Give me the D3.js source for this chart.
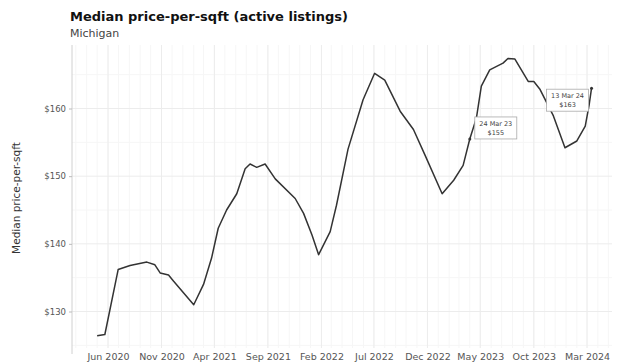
<!DOCTYPE html>
<html><head><meta charset="utf-8">
<script src="https://cdn.jsdelivr.net/npm/d3@7"></script>
<style>body{margin:0;background:#fff}svg{display:block}</style>
</head><body><svg id="c" width="624" height="364"></svg>
<script>
const dates = ["2020-05-01","2020-05-23","2020-06-30","2020-08-03","2020-09-20","2020-10-13","2020-10-28","2020-11-21","2020-12-05","2021-02-01","2021-03-01","2021-03-24","2021-04-12","2021-05-06","2021-06-04","2021-06-28","2021-07-12","2021-07-31","2021-08-24","2021-09-22","2021-11-18","2021-12-12","2022-01-05","2022-01-24","2022-02-26","2022-03-16","2022-04-18","2022-05-31","2022-07-03","2022-08-01","2022-09-14","2022-10-22","2022-11-25","2023-01-12","2023-02-14","2023-03-13","2023-04-01","2023-04-20","2023-05-04","2023-05-28","2023-07-05","2023-07-19","2023-08-08","2023-09-15","2023-10-01","2023-10-19","2023-11-26","2023-12-29","2024-02-01","2024-02-25","2024-03-07","2024-03-14"];
const values = [126.4,126.6,136.2,136.8,137.3,136.9,135.7,135.4,134.5,131.0,134.0,137.9,142.3,145.0,147.4,151.1,151.8,151.3,151.8,149.6,146.7,144.5,141.3,138.4,141.8,145.7,154.0,161.3,165.2,164.2,159.6,156.9,153.0,147.4,149.4,151.6,155.5,158.6,163.3,165.7,166.7,167.4,167.3,164.0,164.0,162.8,158.9,154.2,155.2,157.4,160.5,163.0];
const yTicks = [130,140,150,160];
const xTickLabels = ["Jun 2020","Nov 2020","Apr 2021","Sep 2021","Feb 2022","Jul 2022","Dec 2022","May 2023","Oct 2023","Mar 2024"];
const annDates = ["2023-04-01","2024-03-14"];
const annLine1 = ["24 Mar 23","13 Mar 24"];
const annLine2 = ["$155","$163"];

const parse = d3.timeParse("%Y-%m-%d");
const data = dates.map((d,i)=>({d:parse(d), v:values[i]}));
const svg = d3.select("#c");
const pL=72, pR=612, pT=45, pB=348;

const x = d3.scaleTime().domain([new Date(2020,5,1), new Date(2024,2,1)]).range([108,587]);
const y = d3.scaleLinear().domain([130,160]).range([311.5,108.5]);

const months = d3.timeMonth.range(x.invert(pL), x.invert(pR));
svg.append("g").selectAll("line").data(months).join("line")
  .attr("x1",d=>x(d)).attr("x2",d=>x(d)).attr("y1",pT).attr("y2",pB)
  .attr("stroke","#f6f6f6").attr("stroke-width",1);
const yMinor = [125,135,145,155,165];
svg.append("g").selectAll("line").data(yMinor).join("line")
  .attr("x1",pL).attr("x2",pR).attr("y1",d=>y(d)).attr("y2",d=>y(d))
  .attr("stroke","#f6f6f6");
const xTicks = xTickLabels.map(s=>d3.timeParse("%b %Y")(s));
svg.append("g").selectAll("line").data(xTicks).join("line")
  .attr("x1",d=>x(d)).attr("x2",d=>x(d)).attr("y1",pT).attr("y2",pB)
  .attr("stroke","#ececec");
svg.append("g").selectAll("line").data(yTicks).join("line")
  .attr("x1",pL).attr("x2",pR).attr("y1",d=>y(d)).attr("y2",d=>y(d))
  .attr("stroke","#ececec");

const yAxis = svg.append("g").attr("transform",`translate(${pL},0)`)
  .call(d3.axisLeft(y).tickValues(yTicks).tickFormat(d=>"$"+d).tickSize(3).tickPadding(3));
yAxis.select(".domain").attr("d",`M0,${pT}V${pB+6}`).attr("stroke","#d0d0d0");
yAxis.selectAll(".tick line").attr("stroke","#bbb");
yAxis.selectAll("text").attr("font-family","DejaVu Sans").attr("font-size",8.5).attr("fill","#555");

const xAxis = svg.append("g").attr("transform",`translate(0,${pB+3})`)
  .call(d3.axisBottom(x).tickValues(xTicks).tickFormat(d3.timeFormat("%b %Y")).tickSize(0).tickPadding(2));
xAxis.select(".domain").remove();
xAxis.selectAll("text").attr("font-family","DejaVu Sans").attr("font-size",9.5).attr("fill","#555");

svg.append("path").datum(data)
  .attr("d", d3.line().x(d=>x(d.d)).y(d=>y(d.v)))
  .attr("fill","none").attr("stroke","#333").attr("stroke-width",1.5).attr("stroke-linejoin","round");

const ann = annDates.map((d,i)=>{const dd=parse(d); const pt=data.find(p=>+p.d===+dd); return {d:dd,v:pt.v,l1:annLine1[i],l2:annLine2[i],i};});
const ag = svg.append("g").selectAll("g").data(ann).join("g");
ag.append("circle").attr("cx",d=>x(d.d)).attr("cy",d=>y(d.v)).attr("r",1.5).attr("fill","#333");
const bx = d=> d.i===0 ? x(d.d)+5 : x(d.d)-45;
const by = d=> d.i===0 ? y(d.v)-22 : y(d.v)+1;
ag.append("rect").attr("x",bx).attr("y",by).attr("width",42).attr("height",22)
  .attr("fill","#fff").attr("stroke","#aaa").attr("stroke-width",0.8);
ag.append("text").attr("x",d=>bx(d)+21).attr("y",d=>by(d)+9).attr("text-anchor","middle")
  .attr("font-family","DejaVu Sans").attr("font-size",6.5).attr("fill","#444").text(d=>d.l1);
ag.append("text").attr("x",d=>bx(d)+21).attr("y",d=>by(d)+18).attr("text-anchor","middle")
  .attr("font-family","DejaVu Sans").attr("font-size",6.5).attr("fill","#444").text(d=>d.l2);

svg.append("text").attr("x",70).attr("y",21).attr("font-family","DejaVu Sans").attr("font-weight","bold")
  .attr("font-size",13).attr("fill","#111").text("Median price-per-sqft (active listings)");
svg.append("text").attr("x",70).attr("y",37).attr("font-family","DejaVu Sans")
  .attr("font-size",11).attr("fill","#444").text("Michigan");
svg.append("text").attr("transform","translate(20,198) rotate(-90)").attr("text-anchor","middle")
  .attr("font-family","DejaVu Sans").attr("font-size",10.5).attr("fill","#333").text("Median price-per-sqft");
</script></body></html>
